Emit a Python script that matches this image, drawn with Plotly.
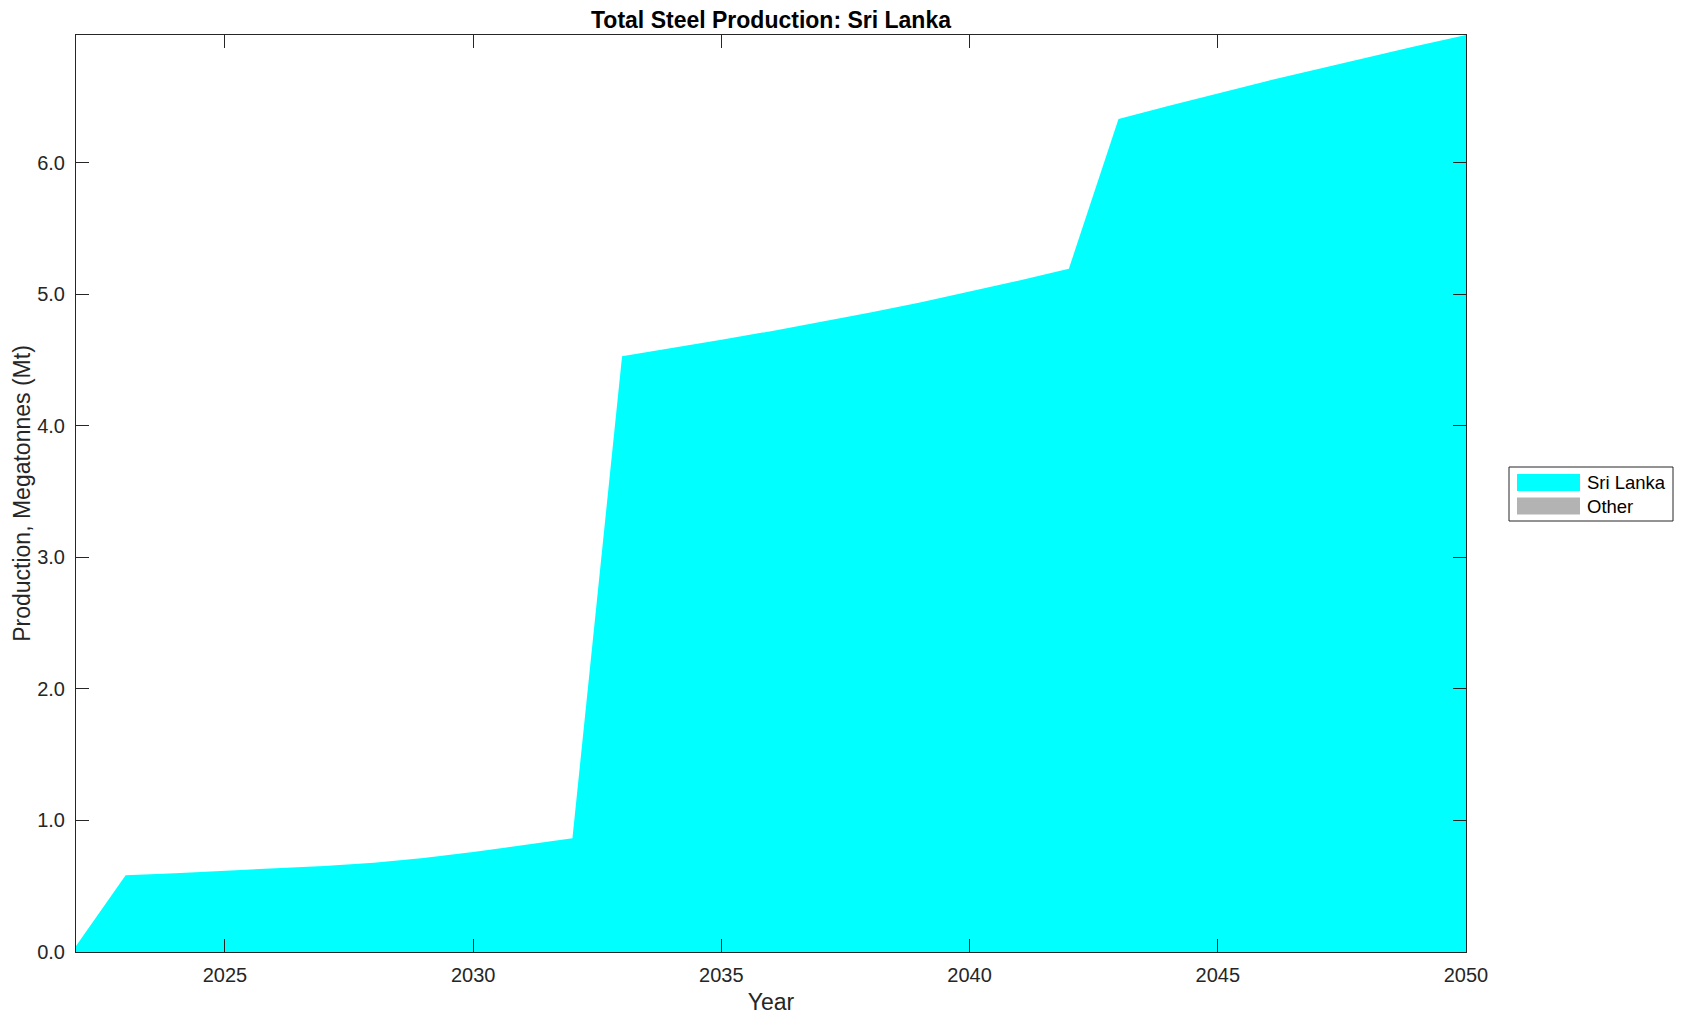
import plotly.graph_objects as go

years = list(range(2022, 2051))
sri_lanka = [0.045, 0.583, 0.599, 0.616, 0.633, 0.654, 0.679, 0.715, 0.760, 0.811,
             0.864, 4.529, 4.590, 4.653, 4.719, 4.789, 4.860, 4.936, 5.019, 5.104,
             5.194, 6.332, 6.431, 6.527, 6.621, 6.710, 6.801, 6.887, 6.970]
other = [0.0] * len(years)

series_names = ["Sri Lanka", "Other"]
series_values = [sri_lanka, other]
series_colors = ["#00FFFF", "#B3B3B3"]

title_text = "Total Steel Production: Sri Lanka"
x_title = "Year"
y_title = "Production, Megatonnes (Mt)"

W, H = 1683, 1021
L, R, T, B = 76, 217, 35, 69
FONT = "Liberation Sans, Arial, Helvetica, sans-serif"
AX = "#262626"

fig = go.Figure()
for name, vals, col in zip(series_names, series_values, series_colors):
    fig.add_trace(go.Scatter(
        x=years, y=vals, name=name, mode="lines", stackgroup="one",
        line=dict(width=0, color=col), fillcolor=col, showlegend=False,
        hoverinfo="x+y+name"))

totals = [a + b for a, b in zip(sri_lanka, other)]

fig.update_layout(
    width=W, height=H,
    margin=dict(l=L, r=R, t=T, b=B, pad=0),
    paper_bgcolor="white", plot_bgcolor="white",
    font=dict(family=FONT, size=20, color=AX),
    title=dict(text="<b>" + title_text + "</b>", x=0.5, xref="paper",
               y=1 - 19.5 / H, yref="container", xanchor="center", yanchor="middle",
               font=dict(family=FONT, size=23, color="black")),
    showlegend=False,
)
fig.update_xaxes(
    range=[years[0], years[-1]], tick0=2025, dtick=5,
    ticks="inside", ticklen=13, tickwidth=1, tickcolor=AX,
    showline=True, linecolor=AX, linewidth=1, mirror="ticks",
    showgrid=False, zeroline=False, ticklabelstandoff=5,
    tickfont=dict(size=20, color=AX),
    title=dict(text=x_title, standoff=8, font=dict(size=23, color=AX)),
)
fig.update_yaxes(
    range=[0, max(totals)], tickvals=[0, 1, 2, 3, 4, 5, 6], tickformat=".1f",
    ticks="inside", ticklen=13, tickwidth=1, tickcolor=AX,
    showline=True, linecolor=AX, linewidth=1, mirror="ticks",
    showgrid=False, zeroline=False, ticklabelstandoff=6,
    tickfont=dict(size=20, color=AX),
    title=dict(text=y_title, standoff=0, font=dict(size=23, color=AX)),
)

# Legend drawn manually (MATLAB style, outside right)
pw = W - L - R
ph = H - T - B
def px(xp):
    return (xp - L) / pw
def py(yp):
    return (H - B - yp) / ph

box = dict(x0=1509, x1=1673, y0=467, y1=521)
fig.add_shape(type="rect", xref="paper", yref="paper",
              x0=px(box["x0"]), x1=px(box["x1"]), y0=py(box["y1"]), y1=py(box["y0"]),
              line=dict(color=AX, width=1), fillcolor="white", layer="above")
row_centers = [482.5, 506]
for name, col, yc in zip(series_names, series_colors, row_centers):
    fig.add_shape(type="rect", xref="paper", yref="paper",
                  x0=px(1517), x1=px(1580), y0=py(yc + 8.5), y1=py(yc - 8.5),
                  line=dict(width=0), fillcolor=col, layer="above")
    fig.add_annotation(xref="paper", yref="paper", x=px(1585), y=py(yc),
                       text=name, showarrow=False, xanchor="left", yanchor="middle",
                       font=dict(family=FONT, size=18.5, color="black"))

fig.write_html("out.html", config={"displayModeBar": False},
               post_script="document.body.style.margin='0';document.body.style.overflow='hidden';")
